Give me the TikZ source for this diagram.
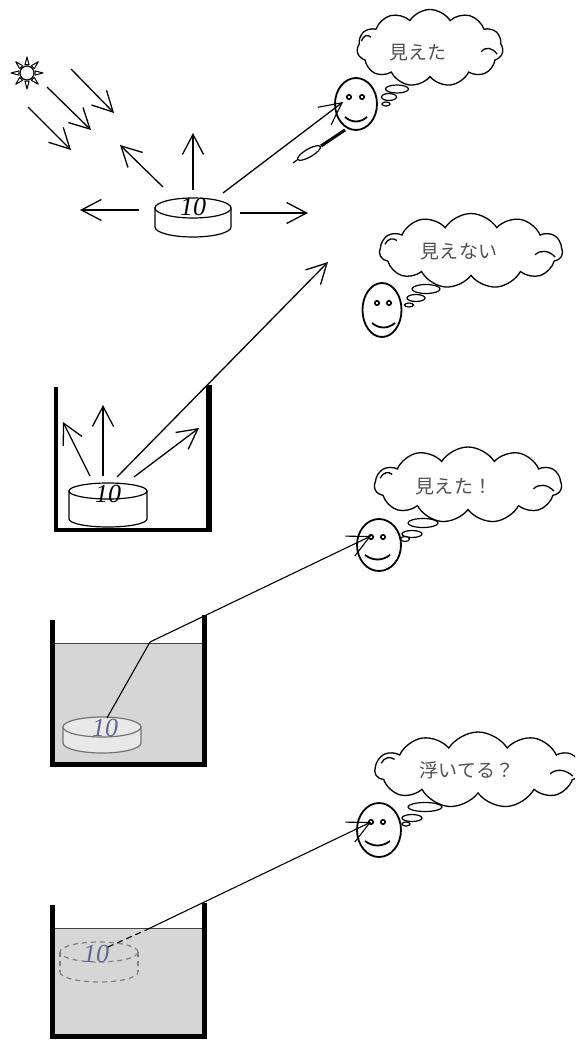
\documentclass[tikz,border=0pt]{standalone}
\usepackage{fontspec}
\setmainfont{Liberation Serif}
\newfontfamily\jp[LetterSpace=2]{Noto Sans CJK JP}
\usetikzlibrary{arrows.meta,shapes.symbols,calc}
\definecolor{thinktext}{RGB}{80,80,80}
\definecolor{wetnum}{RGB}{95,105,140}
\begin{document}
\begin{tikzpicture}[x=1pt,y=-1pt,
  ray/.style={line width=1.3pt,-{Straight Barb[length=20pt,width=21pt,line width=1.3pt]}},
  sight/.style={line width=1.1pt,-{Straight Barb[length=22pt,width=22pt,line width=1.1pt]}},
  look/.style={line width=1.1pt},
  facel/.style={line width=1.8pt},
  eye/.style={line width=1.6pt},
  bub/.style={draw,line width=1.2pt,fill=white},
  think/.style={cloud,cloud puffs=11,cloud puff arc=115,cloud ignores aspect,draw,
    line width=1.3pt,fill=white,inner sep=0pt},
  hook/.style={line width=1.3pt},
  say/.style={font=\jp\fontsize{19}{19}\selectfont,text=thinktext,inner sep=0pt},
  num/.style={font=\itshape\fontsize{26}{26}\selectfont,inner sep=0pt},
  coinline/.style={line width=1.2pt,fill=white},
  wetcoin/.style={line width=1.2pt,draw=black!55,fill=black!9},
  ghost/.style={line width=1.2pt,draw=black!50,dash pattern=on 5pt off 4pt},
  water/.style={fill=black!16},
  surface/.style={line width=0.8pt,draw=black!75},
]
\useasboundingbox (0,0) rectangle (575,1048);
\clip (0,0) rectangle (575,1048);

% inner folds of a thought cloud: #1 node name, #2 half width, #3 half height
\newcommand\cloudfolds[3]{%
  \draw[hook] ($(#1.center)+(0.70*#2,0.10*#3)$) .. controls ($(#1.center)+(0.76*#2,-0.04*#3)$)
     and ($(#1.center)+(0.85*#2,-0.02*#3)$) .. ($(#1.center)+(0.92*#2,0.16*#3)$);
  \draw[hook] ($(#1.center)+(-0.94*#2,-0.18*#3)$) .. controls ($(#1.center)+(-0.91*#2,-0.34*#3)$)
     and ($(#1.center)+(-0.85*#2,-0.36*#3)$) .. ($(#1.center)+(-0.81*#2,-0.28*#3)$);
}

% ---------- sun and incoming light ----------
\draw[line width=1.2pt,fill=white] (27,73) circle[radius=7pt];
\foreach \a in {0,45,...,315}{
  \draw[line width=1pt,fill=white,line join=round]
    ($(27,73)+(\a-14:8.5pt)$) -- ($(27,73)+(\a:16pt)$) -- ($(27,73)+(\a+14:8.5pt)$) -- cycle;
}
\coordinate (s1a) at (71,69);  \coordinate (s1b) at (114,113);
\coordinate (s2a) at (47,87);  \coordinate (s2b) at (91,130);
\coordinate (s3a) at (28,107); \coordinate (s3b) at (71,150);
\draw[ray] (s1a) -- (s1b);
\draw[ray] (s2a) -- (s2b);
\draw[ray] (s3a) -- (s3b);

% ---------- coin in the open ----------
\draw[coinline] (155,208) -- (155,227) arc[start angle=180,end angle=360,x radius=38pt,y radius=10pt] -- (231,208) -- cycle;
\draw[coinline] (193,208) ellipse[x radius=38pt,y radius=10pt];
\node[num] (n1) at (193,207) {10};

\coordinate (l0) at (139,210); \coordinate (l1) at (80,210);
\coordinate (r0) at (240,213); \coordinate (r1) at (308,213);
\coordinate (u0) at (193,190); \coordinate (u1) at (193,133);
\coordinate (ul0) at (163,187); \coordinate (ul1) at (120,145);
\coordinate (f0) at (223,193); \coordinate (f1) at (343,102);
\draw[ray] (l0) -- (l1);
\draw[ray] (r0) -- (r1);
\draw[ray] (u0) -- (u1);
\draw[ray] (ul0) -- (ul1);
\draw[sight,line width=1.3pt] (f0) -- (f1);

% pen held below the first face
\coordinate (pen0) at (345,130); \coordinate (pen1) at (321,146);
\draw[line width=3pt] (pen0) -- (pen1);
\draw[line width=1.2pt,fill=white] (309,153) [rotate around={30:(309,153)}] ellipse[x radius=13pt,y radius=4pt];
\draw[line width=1.2pt] (297,160) -- (293,163);

% ---------- face 1 ----------
\draw[facel] (356,104) ellipse[x radius=21pt,y radius=26pt];
\draw[eye] (349,97) circle[radius=2.2pt] (362,97) circle[radius=2.2pt];
\draw[facel] (345,117) .. controls (352,123) and (360,123) .. (367,117);
\draw[bub] (397,89) ellipse[x radius=11.5pt,y radius=4pt];
\draw[bub] (389,97) ellipse[x radius=7.5pt,y radius=3.5pt];
\draw[bub] (386,104) ellipse[x radius=4pt,y radius=2pt];
\node[think,minimum width=146pt,minimum height=77pt] (c1) at (430,48) {};
\cloudfolds{c1}{73}{38.5}
\node[say] (t1) at (418,53) {見えた};

% ---------- face 2 ----------
\draw[facel] (382,310) ellipse[x radius=19.5pt,y radius=27pt];
\draw[eye] (377,303) circle[radius=2.2pt] (389,303) circle[radius=2.2pt];
\draw[facel] (372,323) .. controls (379,329) and (388,329) .. (395,323);
\draw[bub] (426,289) ellipse[x radius=14pt,y radius=4.5pt];
\draw[bub] (416,298) ellipse[x radius=9pt,y radius=3.5pt];
\draw[bub] (409,305) ellipse[x radius=4.5pt,y radius=2pt];
\node[think,minimum width=183pt,minimum height=75pt] (c2) at (471,251) {};
\cloudfolds{c2}{91.5}{37.5}
\node[say] (t2) at (459,252) {見えない};

% ---------- empty cup ----------
\draw[line width=3.5pt] (56,387) -- (56,532);
\draw[line width=6pt] (209,385) -- (209,532);
\draw[line width=4.5pt] (54,530) -- (212,530);
\draw[coinline] (69,491) -- (69,519) arc[start angle=180,end angle=360,x radius=39pt,y radius=8pt] -- (147,491) -- cycle;
\draw[coinline] (108,491) ellipse[x radius=39pt,y radius=8pt];
\node[num] (n2) at (108,494) {10};

\coordinate (a0) at (90,476);  \coordinate (a1) at (63,422);
\coordinate (b0) at (103,476); \coordinate (b1) at (103,405);
\coordinate (d0) at (117,477); \coordinate (d1) at (328,262);
\coordinate (e0) at (134,477); \coordinate (e1) at (199,428);
\draw[ray] (a0) -- (a1);
\draw[ray] (b0) -- (b1);
\draw[ray] (d0) -- (d1);
\draw[ray] (e0) -- (e1);

% ---------- cup with water ----------
\fill[water] (55,643) rectangle (203,763);
\draw[surface] (55,643) -- (203,643);
\draw[line width=5pt] (52.5,620) -- (52.5,767);
\draw[line width=5pt] (204.5,615) -- (204.5,767);
\draw[line width=5pt] (50,764.5) -- (207,764.5);
\draw[wetcoin] (63,727) -- (63,743) arc[start angle=180,end angle=360,x radius=39pt,y radius=10pt] -- (141,727) -- cycle;
\draw[wetcoin] (102,727) ellipse[x radius=39pt,y radius=10pt];
\node[num,text=wetnum] (n3) at (105,728) {10};
\coordinate (g0) at (107,718);
\coordinate (g1) at (150,642);
\coordinate (g2) at (371,536);
\draw[sight] (g0) -- (g1) -- (g2);

% ---------- face 3 ----------
\draw[facel] (379,545) ellipse[x radius=22pt,y radius=26pt];
\draw[eye] (371,537) circle[radius=2.2pt] (383,537) circle[radius=2.2pt];
\draw[facel] (365,555) .. controls (373,561) and (382,561) .. (390,555);
\draw[bub] (423,523) ellipse[x radius=15pt,y radius=4.5pt];
\draw[bub] (412,534) ellipse[x radius=10pt,y radius=3.5pt];
\draw[bub] (405,539) ellipse[x radius=4.5pt,y radius=2.5pt];
\node[think,minimum width=187pt,minimum height=76pt] (c3) at (468,485) {};
\cloudfolds{c3}{93.5}{38}
\node[say] (t3) at (454,487) {見えた！};

% ---------- cup with water, apparent coin ----------
\fill[water] (55,928) rectangle (203,1035);
\draw[surface] (55,928) -- (203,928);
\draw[line width=5pt] (52.5,905) -- (52.5,1039);
\draw[line width=5pt] (204.5,903) -- (204.5,1039);
\draw[line width=5pt] (50,1036.5) -- (207,1036.5);
\draw[ghost] (60,952) -- (60,972);
\draw[ghost] (138,952) -- (138,972);
\draw[ghost] (60,972) arc[start angle=180,end angle=360,x radius=39pt,y radius=10pt];
\draw[ghost] (99,952) ellipse[x radius=39pt,y radius=10pt];
\node[num,text=wetnum] (n4) at (96,954) {10};
\coordinate (h0) at (108,947);
\coordinate (h1) at (146,930);
\coordinate (h2) at (371,822);
\draw[look,dash pattern=on 6pt off 4pt] (h0) -- (h1);
\draw[sight] (h1) -- (h2);

% ---------- face 4 ----------
\draw[facel] (379,830) ellipse[x radius=22pt,y radius=27pt];
\draw[eye] (371,822) circle[radius=2.2pt] (383,822) circle[radius=2.2pt];
\draw[facel] (365,841) .. controls (373,847) and (382,847) .. (390,841);
\draw[bub] (425,807) ellipse[x radius=17pt,y radius=4.5pt];
\draw[bub] (412,818) ellipse[x radius=10pt,y radius=3.5pt];
\draw[bub] (406,824) ellipse[x radius=4pt,y radius=2pt];
\node[think,minimum width=206pt,minimum height=76pt] (c4) at (478,770) {};
\cloudfolds{c4}{103}{38}
\node[say] (t4) at (467,770) {浮いてる？};
\end{tikzpicture}
\end{document}
